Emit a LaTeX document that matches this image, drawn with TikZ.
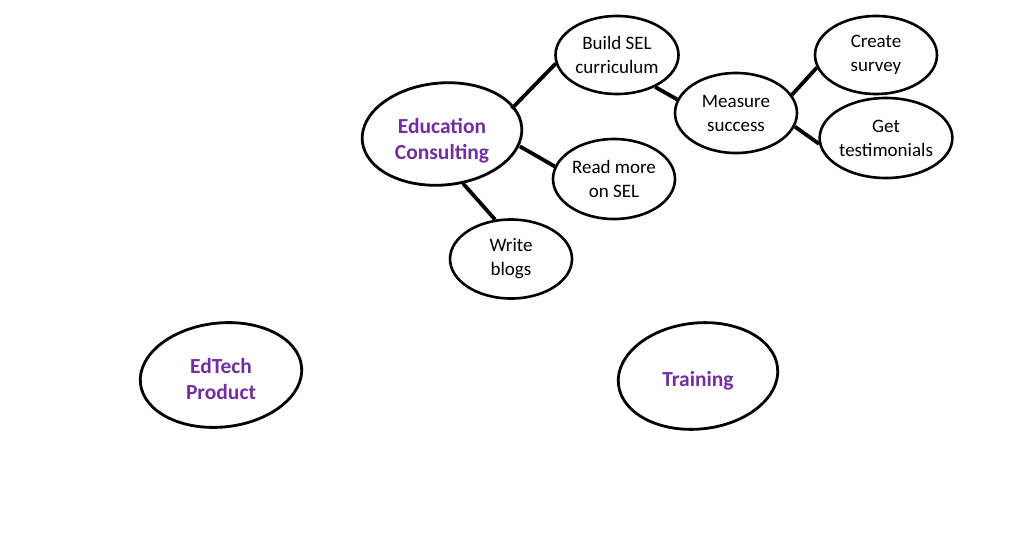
\documentclass[tikz,border=0pt]{standalone}
\usepackage{fontspec}
\setmainfont{Carlito}
\usetikzlibrary{shapes.geometric}
\definecolor{titlepurple}{HTML}{7030A0}
\newcommand{\mystrut}[1]{\rule{0pt}{#1}}
\tikzset{
  bubble/.style={ellipse, draw=black, line width=2.6pt, inner sep=0pt,
    align=center, font=\fontsize{19}{24}\selectfont, text=black},
  mainbubble/.style={ellipse, draw=none, inner sep=0pt, align=center,
    font=\fontsize{21.5}{26}\selectfont\bfseries, text=titlepurple},
  ring/.style={draw=black, line width=2.8pt},
  link/.style={line width=3.8pt, black},
}
\begin{document}
\begin{tikzpicture}[x=1pt,y=-1pt]
\useasboundingbox (0,0) rectangle (1024,557);
\node[mainbubble, minimum width=160pt, minimum height=102pt] (ec) at (442,134) {\mystrut{28pt}Education\\Consulting};
\node[bubble, minimum width=123pt, minimum height=78pt] (sel) at (617,55) {Build SEL\\curriculum};
\node[bubble, minimum width=122pt, minimum height=80pt] (read) at (614,179) {Read more\\on SEL};
\node[bubble, minimum width=122pt, minimum height=79pt] (blog) at (511,259) {Write\\blogs};
\node[bubble, minimum width=122pt, minimum height=80pt] (meas) at (736,113) {Measure\\success};
\node[bubble, minimum width=122pt, minimum height=78pt] (surv) at (876,55) {Create\\survey};
\node[bubble, minimum width=122pt, minimum height=80pt] (test) at (886,138) {Get\\testimonials};
\node[mainbubble, minimum width=162pt, minimum height=106pt] (edt) at (221,375) {\mystrut{24pt}EdTech\\Product};
\node[mainbubble, minimum width=161pt, minimum height=108pt] (trn) at (698,376) {\mystrut{24pt}Training};
\draw[ring, rotate around={5:(ec.center)}] (ec.center) ellipse [x radius=80pt, y radius=51pt];
\draw[ring, rotate around={6:(edt.center)}] (edt.center) ellipse [x radius=81pt, y radius=52pt];
\draw[ring, rotate around={6:(trn.center)}] (trn.center) ellipse [x radius=80pt, y radius=53pt];
\draw[link] (ec.20) -- (sel.188);
\draw[link] (ec.-9) -- (read.168);
\draw[link] (ec.-67) -- (blog.112);
\draw[link] (sel.-40) -- (meas.167);
\draw[link] (meas.18) -- (surv.192);
\draw[link] (meas.-13) -- (test.185);
\end{tikzpicture}
\end{document}
